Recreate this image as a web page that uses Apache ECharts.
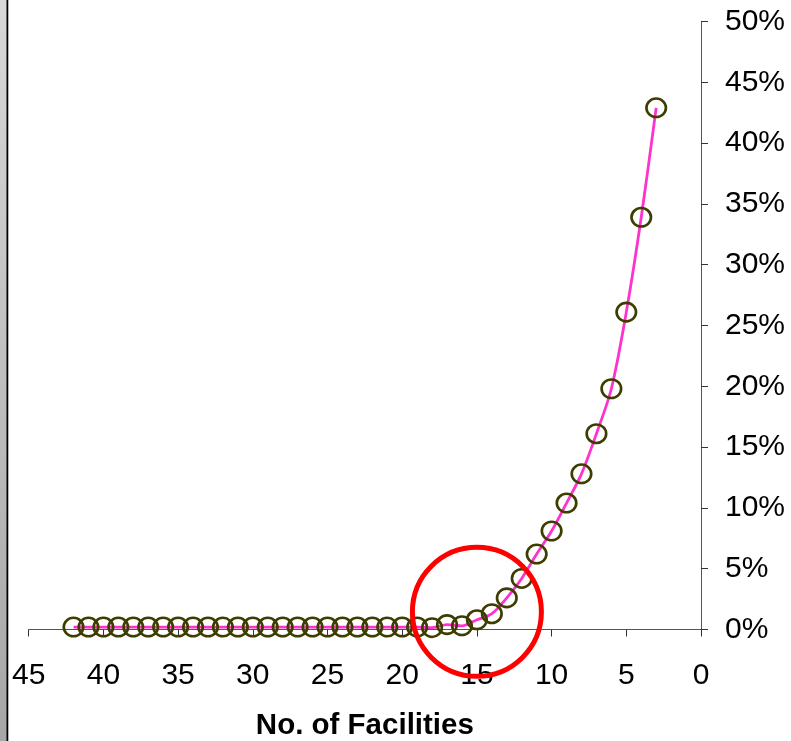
<!DOCTYPE html>
<html>
<head>
<meta charset="utf-8">
<script src="https://cdn.jsdelivr.net/npm/echarts@6/dist/echarts.min.js"></script>
<style>
  html, body { margin: 0; padding: 0; background: #ffffff; }
  #chart { width: 791px; height: 741px; }
</style>
</head>
<body>
<div id="chart"></div>
<script>
// Number of facilities (x) and share of demand left uncovered (y)
const facilities = [42, 41, 40, 39, 38, 37, 36, 35, 34, 33, 32, 31, 30, 29, 28, 27, 26, 25, 24, 23, 22, 21, 20, 19,
                    18, 17, 16, 15, 14, 13, 12, 11, 10, 9, 8, 7, 6, 5, 4, 3];
const shares = [0.002, 0.002, 0.002, 0.002, 0.002, 0.002, 0.002, 0.002, 0.002, 0.002, 0.002, 0.002,
                0.002, 0.002, 0.002, 0.002, 0.002, 0.002, 0.002, 0.002, 0.002, 0.002, 0.002, 0.002,
                0.0015, 0.004, 0.003, 0.008, 0.013, 0.026, 0.042, 0.062, 0.081, 0.104, 0.128, 0.161,
                0.198, 0.261, 0.339, 0.429];
const xTicks = [0, 5, 10, 15, 20, 25, 30, 35, 40, 45];
const yTicks = [0, 0.05, 0.10, 0.15, 0.20, 0.25, 0.30, 0.35, 0.40, 0.45, 0.50];
// Highlighted region around the knee of the curve
const focusPoint = [15, 0.0145];

const chart = echarts.init(document.getElementById('chart'), null, { renderer: 'canvas' });
const font = '"Liberation Sans", Arial, sans-serif';

chart.setOption({
  animation: false,
  backgroundColor: '#ffffff',
  grid: { left: 28.7, right: 90, top: 21.5, bottom: 111.5, containLabel: false, outerBoundsMode: 'none' },
  xAxis: {
    type: 'value',
    inverse: true,
    min: xTicks[0],
    max: xTicks[xTicks.length - 1],
    interval: 5,
    name: 'No. of Facilities',
    nameLocation: 'middle',
    nameGap: 81,
    nameTextStyle: { fontFamily: font, fontSize: 29.5, fontWeight: 'bold', color: '#000' },
    axisLine: { show: true, onZero: false, lineStyle: { color: '#555', width: 1 } },
    axisTick: { show: true, inside: false, length: 7, lineStyle: { color: '#333', width: 1 } },
    axisLabel: { fontFamily: font, fontSize: 30, color: '#000', margin: 31 },
    splitLine: { show: false }
  },
  yAxis: {
    type: 'value',
    position: 'right',
    min: yTicks[0],
    max: yTicks[yTicks.length - 1],
    interval: 0.05,
    axisLine: { show: true, lineStyle: { color: '#555', width: 1 } },
    axisTick: { show: true, inside: false, length: 7, lineStyle: { color: '#333', width: 1 } },
    axisLabel: {
      fontFamily: font, fontSize: 30, color: '#000', margin: 24, align: 'left',
      padding: [5, 0, 0, 0],
      formatter: v => Math.round(v * 100) + '%'
    },
    splitLine: { show: false }
  },
  series: [{
    type: 'line',
    data: facilities.map((f, i) => [f, shares[i]]),
    smooth: 0.3,
    lineStyle: { color: '#ff33cc', width: 2.8 },
    symbol: 'circle',
    symbolSize: [19.5, 18.5],
    itemStyle: { color: 'rgba(0,0,0,0)', borderColor: '#3d3d00', borderWidth: 2.6 },
    emphasis: { disabled: true }
  }]
});

// Place the highlight ring in data coordinates, then add the window-frame strip on the left.
const c = chart.convertToPixel({ gridIndex: 0 }, focusPoint);
chart.setOption({
  graphic: [
    {
      type: 'rect',
      left: 0, top: 0,
      shape: { x: 0, y: 0, width: 7, height: 741 },
      style: {
        fill: new echarts.graphic.LinearGradient(0, 0, 0, 1, [
          { offset: 0, color: '#d8d8d8' },
          { offset: 1, color: '#a6a6a6' }
        ])
      },
      z: 100
    },
    {
      type: 'rect',
      left: 6.5, top: 0,
      shape: { x: 0, y: 0, width: 1.8, height: 741 },
      style: { fill: '#000' },
      z: 100
    },
    {
      type: 'circle',
      shape: { cx: c[0], cy: c[1], r: 64.5 },
      style: { fill: 'none', stroke: '#ff0000', lineWidth: 5 },
      z: 100
    }
  ]
});
</script>
</body>
</html>
